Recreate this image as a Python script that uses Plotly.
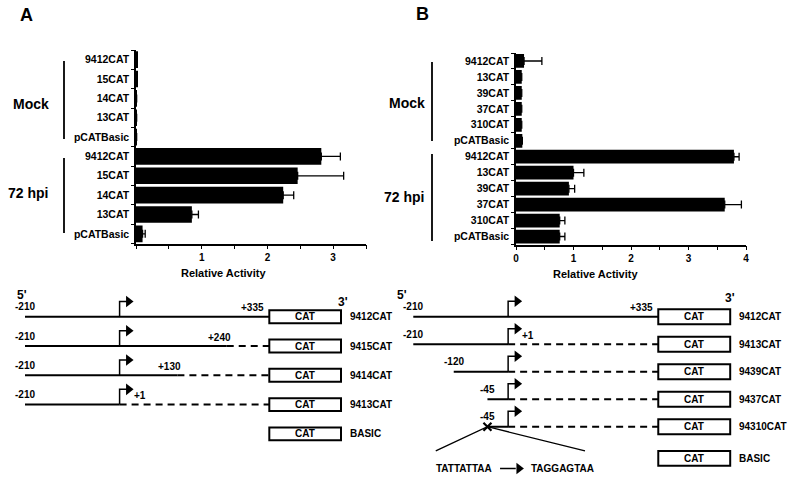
import plotly.graph_objects as go

# ---- panel A: relative CAT activity ----
a_cats = ["9412CAT", "15CAT", "14CAT", "13CAT", "pCATBasic"]
a_mock = [0.02, 0.02, 0.01, 0.01, 0.01]
a_mock_err = [0, 0, 0, 0, 0]
a_72 = [2.82, 2.46, 2.24, 0.85, 0.10]
a_72_err = [0.29, 0.70, 0.16, 0.10, 0.04]

# ---- panel B: relative CAT activity ----
b_cats = ["9412CAT", "13CAT", "39CAT", "37CAT", "310CAT", "pCATBasic"]
b_mock = [0.14, 0.10, 0.10, 0.10, 0.10, 0.11]
b_mock_err = [0.31, 0, 0, 0, 0, 0]
b_72 = [3.79, 1.00, 0.92, 3.63, 0.76, 0.76]
b_72_err = [0.09, 0.18, 0.10, 0.29, 0.09, 0.09]

# ---- constructs (positions relative to the +1 start site) ----
a_names = ["9412CAT", "9415CAT", "9414CAT", "9413CAT", "BASIC"]
a_start = [-210, -210, -210, -210, None]
a_end = [335, 240, 130, 1, None]
a_end_lbl = ["+335", "+240", "+130", "+1", None]

b_names = ["9412CAT", "9413CAT", "9439CAT", "9437CAT", "94310CAT", "BASIC"]
b_start = [-210, -210, -120, -45, -45, None]
b_end = [335, 1, 1, 1, 1, None]
b_end_lbl = ["+335", "+1", None, None, None, None]
b_mutant = [False, False, False, False, True, False]

cat_from, cat_to = 335, 495
wt_seq = "TATTATTAA"
mut_seq = "TAGGAGTAA"

W, H = 788, 478
FONT = "Liberation Sans, Arial, sans-serif"


def px(x):
    return x / W


def py(y):
    return 1 - y / H


def bold(size):
    return dict(family=FONT, size=size, color="black", weight="bold")


def note(x, y, text, size):
    return dict(x=px(x), y=py(y), xref="paper", yref="paper", text=text, showarrow=False,
                xanchor="center", yanchor="middle", font=bold(size))


fig = go.Figure()

# bar charts
for vals, errs, xa, ya in [
    (a_mock + a_72, a_mock_err + a_72_err, "x", "y"),
    (b_mock + b_72, b_mock_err + b_72_err, "x2", "y2"),
]:
    fig.add_trace(go.Bar(
        x=vals, y=list(range(len(vals))), orientation="h", width=0.86,
        marker=dict(color="black", line=dict(width=0)),
        error_x=dict(type="data", array=errs, arrayminus=[0] * len(errs),
                     symmetric=False, color="black", thickness=1.3, width=4),
        cliponaxis=False, xaxis=xa, yaxis=ya,
    ))

annotations = []
shapes = []


def draw_constructs(names, starts, ends, end_lbls, rows, xa, ya, rise, half, mutant=None):
    for i, name in enumerate(names):
        r = rows[i]
        shapes.append(dict(type="rect", xref=xa, yref=ya, x0=cat_from, x1=cat_to,
                           y0=r - half, y1=r + half, line=dict(color="black", width=2),
                           fillcolor="white", layer="above"))
        annotations.append(dict(x=(cat_from + cat_to) / 2, y=r, xref=xa, yref=ya, text="CAT",
                                showarrow=False, font=bold(10)))
        annotations.append(dict(x=cat_to + 15, y=r, xref=xa, yref=ya, text=name,
                                showarrow=False, xanchor="left", font=bold(10)))
        if starts[i] is None:
            continue
        s, e = starts[i], ends[i]
        fig.add_trace(go.Scatter(x=[s, e], y=[r, r], mode="lines",
                                 line=dict(color="black", width=2), xaxis=xa, yaxis=ya))
        if e < cat_from:
            fig.add_trace(go.Scatter(x=[e, cat_from], y=[r, r], mode="lines",
                                     line=dict(color="black", width=2, dash="7px,5px"),
                                     xaxis=xa, yaxis=ya))
        # transcription start arrow
        fig.add_trace(go.Scatter(x=[1, 1, 18], y=[r, r - rise, r - rise], mode="lines",
                                 line=dict(color="black", width=1.5), xaxis=xa, yaxis=ya))
        fig.add_trace(go.Scatter(x=[21], y=[r - rise], mode="markers",
                                 marker=dict(symbol="triangle-right", size=10, color="black"),
                                 xaxis=xa, yaxis=ya))
        annotations.append(dict(x=s, y=r, xref=xa, yref=ya, text=str(s), showarrow=False,
                                yshift=10, font=bold(10)))
        lbl = end_lbls[i]
        if lbl:
            if e == cat_from:
                annotations.append(dict(x=e, y=r, xref=xa, yref=ya, text=lbl, showarrow=False,
                                        xanchor="right", xshift=-3, yshift=9, font=bold(10)))
            elif e == 1:
                annotations.append(dict(x=e, y=r, xref=xa, yref=ya, text=lbl, showarrow=False,
                                        xanchor="left", xshift=12, yshift=9, font=bold(10)))
            else:
                annotations.append(dict(x=e, y=r, xref=xa, yref=ya, text=lbl, showarrow=False,
                                        xanchor="right", xshift=6, yshift=9, font=bold(10)))
        if mutant and mutant[i]:
            fig.add_trace(go.Scatter(x=[s], y=[r], mode="markers",
                                     marker=dict(symbol="x-thin", size=8,
                                                 line=dict(color="black", width=2.2)),
                                     xaxis=xa, yaxis=ya))
            fig.add_trace(go.Scatter(x=[-160, s, 172], y=[r + 0.88, r, r + 0.88], mode="lines",
                                     line=dict(color="black", width=1.3), xaxis=xa, yaxis=ya))
            annotations.append(dict(x=-97, y=r + 1.52, xref=xa, yref=ya, text=wt_seq,
                                    showarrow=False, font=bold(10)))
            annotations.append(dict(x=123, y=r + 1.52, xref=xa, yref=ya, text=mut_seq,
                                    showarrow=False, font=bold(10)))
            fig.add_trace(go.Scatter(x=[-17, 18], y=[r + 1.52, r + 1.52], mode="lines",
                                     line=dict(color="black", width=1.5), xaxis=xa, yaxis=ya))
            fig.add_trace(go.Scatter(x=[25], y=[r + 1.52], mode="markers",
                                     marker=dict(symbol="triangle-right", size=10, color="black"),
                                     xaxis=xa, yaxis=ya))


draw_constructs(a_names, a_start, a_end, a_end_lbl, [0, 1, 2, 3, 4], "x3", "y3", 0.52, 0.22)
draw_constructs(b_names, b_start, b_end, b_end_lbl, [0, 1, 2, 3, 4, 5.15], "x4", "y4", 0.56, 0.27,
                b_mutant)

annotations += [
    dict(x=-217, y=-0.74, xref="x3", yref="y3", text="5'", showarrow=False, font=bold(12)),
    dict(x=500, y=-0.5, xref="x3", yref="y3", text="3'", showarrow=False, font=bold(12)),
    dict(x=-235, y=-0.8, xref="x4", yref="y4", text="5'", showarrow=False, font=bold(12)),
    dict(x=495, y=-0.68, xref="x4", yref="y4", text="3'", showarrow=False, font=bold(12)),
    note(26, 15, "A", 18),
    note(422, 14, "B", 18),
    note(31, 104, "Mock", 14),
    note(28, 193, "72 hpi", 14),
    note(407, 103, "Mock", 14),
    note(404, 197, "72 hpi", 14),
    note(223, 273, "Relative Activity", 11),
    note(595, 274, "Relative Activity", 11),
]

for x0, y0, y1 in [(64, 61, 139), (64, 158, 233), (432, 62, 141), (432, 154, 241)]:
    shapes.append(dict(type="line", xref="paper", yref="paper", x0=px(x0), x1=px(x0),
                       y0=py(y0), y1=py(y1), line=dict(color="black", width=1.8)))

a_xt = [0, 0.5, 1, 1.5, 2, 2.5, 3, 3.5]
a_xl = ["", "", "1", "", "2", "", "3", ""]
b_xt = [0, 0.5, 1, 1.5, 2, 2.5, 3, 3.5, 4]
b_xl = ["0", "", "1", "", "2", "", "3", "", "4"]

xcommon = dict(showline=True, linecolor="black", linewidth=1.5, ticks="outside", ticklen=4,
               tickwidth=1.2, tickcolor="black", showgrid=False, zeroline=False,
               tickfont=bold(10), tickmode="array", automargin=False)
ycommon = dict(showline=True, linecolor="black", linewidth=1.5, ticks="", showgrid=False,
               zeroline=False, tickfont=bold(10.5), tickmode="array", ticklabelstandoff=3,
               automargin=False)
hidden = dict(visible=False, showgrid=False, zeroline=False, fixedrange=True, automargin=False)

fig.update_layout(
    width=W, height=H, margin=dict(l=0, r=0, t=0, b=0, pad=0, autoexpand=False),
    showlegend=False,
    paper_bgcolor="white", plot_bgcolor="white", font=dict(family=FONT, color="black"),
    xaxis=dict(domain=[px(136), px(366)], range=[0, 3.5], anchor="y",
               tickvals=a_xt, ticktext=a_xl, **xcommon),
    yaxis=dict(domain=[py(243.5), py(50)], range=[9.5, -0.5], anchor="x",
               tickvals=list(range(10)), ticktext=a_cats * 2,
               minor=dict(tickvals=[i + 0.5 for i in range(-1, 10)], ticks="outside", ticklen=3,
                          tickcolor="black", tickwidth=1),
               **ycommon),
    xaxis2=dict(domain=[px(516), px(746)], range=[0, 4], anchor="y2",
                tickvals=b_xt, ticktext=b_xl, **xcommon),
    yaxis2=dict(domain=[py(244.5), py(53)], range=[11.5, -0.5], anchor="x2",
                tickvals=list(range(12)), ticktext=b_cats * 2,
                minor=dict(tickvals=[i + 0.5 for i in range(-1, 12)], ticks="outside", ticklen=3,
                           tickcolor="black", tickwidth=1),
                **ycommon),
    xaxis3=dict(domain=[px(7.07), px(388.1)], range=[-250, 600], anchor="y3", **hidden),
    yaxis3=dict(domain=[py(463.2), py(287.4)], range=[5, -1], anchor="x3", **hidden),
    xaxis4=dict(domain=[px(395.3), px(777.4)], range=[-250, 600], anchor="y4", **hidden),
    yaxis4=dict(domain=[py(476.2), py(289.2)], range=[5.8, -1], anchor="x4", **hidden),
    annotations=annotations, shapes=shapes,
)

fig.write_html("out.html", config={"displayModeBar": False},
               post_script="document.body.style.margin='0';")
